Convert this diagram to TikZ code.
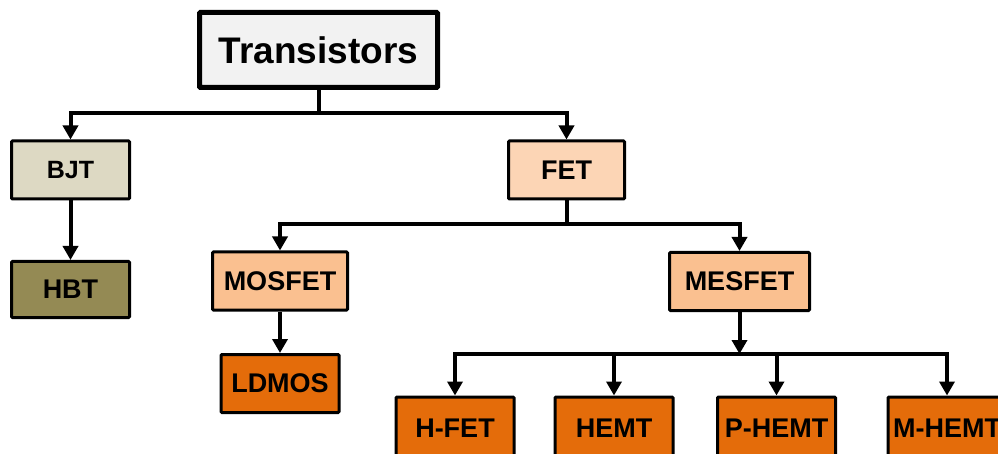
\documentclass[tikz,border=0pt]{standalone}
\usepackage{fontspec}
\setmainfont{Liberation Sans}
\usetikzlibrary{arrows.meta}

\definecolor{transgray}{HTML}{F2F2F2}
\definecolor{bjtbeige}{HTML}{DDD9C3}
\definecolor{hbtolive}{HTML}{948A54}
\definecolor{fetpeach}{HTML}{FCD5B5}
\definecolor{fettan}{HTML}{FAC090}
\definecolor{hemtorange}{HTML}{E46C0A}

\tikzset{
  tbox/.style={draw, line width=3pt, rounded corners=1pt, inner sep=0pt,
    minimum width=118pt, minimum height=58pt,
    font=\fontsize{27}{29}\selectfont\bfseries},
  bus/.style={line width=4pt},
  arr/.style={bus, -{Triangle[width=15pt,length=14pt]}}
}

\begin{document}
\begin{tikzpicture}[x=1pt, y=-1pt]

    \useasboundingbox (0,0) rectangle (998,454);
    \clip (0,0) rectangle (998,454);

    \node[tbox, fill=transgray, line width=5pt, minimum width=238pt, minimum height=75pt,
      font=\fontsize{37}{40}\selectfont\bfseries] (trans) at (318.5,50) {Transistors};

    \node[tbox, fill=bjtbeige, font=\fontsize{25}{27}\selectfont\bfseries] (bjt) at (70.5,170) {BJT};
    \node[tbox, fill=hbtolive, minimum height=56pt] (hbt) at (70.5,289.5) {HBT};
    \node[tbox, fill=fetpeach, minimum width=116pt] (fet) at (566.5,170) {FET};

    \node[tbox, fill=fettan, minimum width=135pt] (mosfet) at (280,281) {MOSFET};
    \node[tbox, fill=fettan, minimum width=140pt] (mesfet) at (739.5,281.5) {MESFET};
    \node[tbox, fill=hemtorange] (ldmos) at (280,383.5) {LDMOS};

    \foreach \n/\x/\t in {hfet/455/H-FET, hemt/614/HEMT, phemt/776.5/P-HEMT, mhemt/947/M-HEMT}
    \node[tbox, fill=hemtorange, minimum height=62pt] (\n) at (\x,428) {\t};

    % top level
    \draw[bus] (trans.south) -- ++(0,23.5) coordinate (split1);
    \draw[arr] (split1) -| (bjt.north);
    \draw[arr] (split1) -| (fet.north);
    \draw[arr] (bjt) -- (hbt);

    % FET branch
    \draw[bus] (fet.south) -- ++(0,23.5) coordinate (split2);
    \draw[arr] (split2) -| (mosfet.north);
    \draw[arr] (split2) -| (mesfet.north);
    \draw[arr] (mosfet) -- (ldmos);

    % MESFET family
    \draw[arr] (mesfet.south) -- ++(0,42) coordinate (split3);
    \draw[arr] (split3) -| (hfet.north);
    \draw[arr] (split3) -| (mhemt.north);
    \foreach \n in {hemt,phemt}
    \draw[arr] (split3 -| \n.north) -- (\n.north);

\end{tikzpicture}
\end{document}
